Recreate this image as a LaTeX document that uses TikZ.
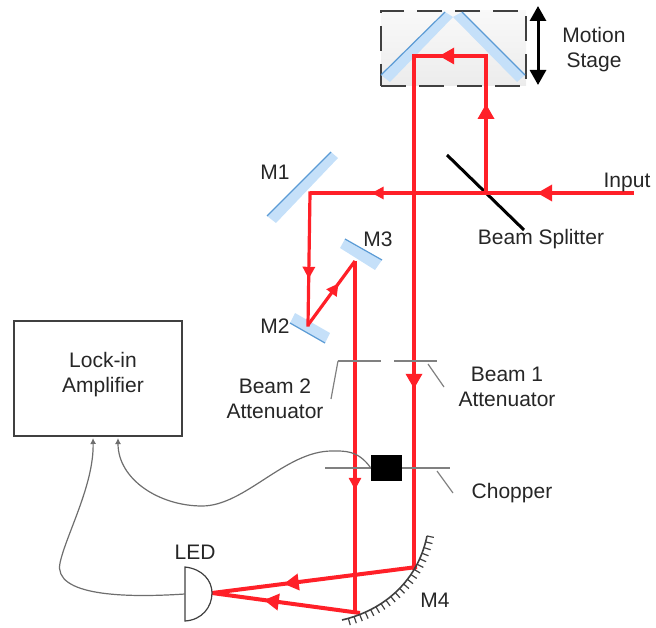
\documentclass[tikz,border=0pt]{standalone}
\usepackage{fontspec}
\setmainfont{Liberation Sans}
\usetikzlibrary{arrows.meta,decorations.markings,decorations.pathreplacing}
\definecolor{beamred}{HTML}{FF2028}
\definecolor{bandblue}{HTML}{C5E0F9}
\definecolor{edgeblue}{HTML}{5B9BD5}
\definecolor{wiregrey}{HTML}{6E6E6E}
\definecolor{darkgrey}{HTML}{404040}
\begin{document}
\begin{tikzpicture}[x=1pt,y=-1pt,
					beam/.style = {color = beamred,
								line width = 3.4pt,
								postaction = decorate,
								decoration = {markings,
											mark = at position 0.65 with {\arrow{Triangle[length=15pt,width=16pt]}}}},
					thinbeam/.style = {color = beamred,
								line width = 3.2pt,
								postaction = decorate,
								decoration = {markings,
											mark = at position 0.65 with {\arrow{Triangle[length=12pt,width=12pt]}}}},
					band/.style = {fill = bandblue, draw = none},
					blueedge/.style = {color = edgeblue, line width = 1.2pt},
					wire/.style = {color = wiregrey, line width = 1.2pt},
					slit/.style = {color = gray, line width = 2pt},
					leader/.style = {color = gray, line width = 1.2pt},
					lbl/.style = {align = center,
								inner sep = 0pt,
								text = black!85,
								font = \fontsize{21}{25}\selectfont}]
		\useasboundingbox (0,0) rectangle (656,628);

		\node[draw = darkgrey, dash pattern = on 25pt off 13pt, line width = 1.5pt, top color = gray!5, bottom color = gray!15,
			minimum width = 145pt, minimum height = 75pt, inner sep = 0pt] (stage) at (453.5,48.5) {};
		\fill[band] (381,75) -- (445,12) -- (453,17) -- (390,82) -- cycle;
		\fill[band] (462,12) -- (525,75) -- (517,82) -- (453,17) -- cycle;
		\fill[band] (331,152) -- (267,216) -- (276,223) -- (338,158) -- cycle;
		\fill[band] (290,323) -- (325,343) -- (330,333) -- (295,313) -- cycle;
		\fill[band] (345,239) -- (382,260) -- (375,270) -- (340,248) -- cycle;
		\coordinate (stageL1) at (381,75);
		\coordinate (stageL2) at (445,12);
		\coordinate (stageR1) at (462,12);
		\coordinate (stageR2) at (525,75);
		\coordinate (m1a) at (331,152);
		\coordinate (m1b) at (267,216);
		\coordinate (m2a) at (290,323);
		\coordinate (m2b) at (325,343);
		\coordinate (m3a) at (345,239);
		\coordinate (m3b) at (382,260);
		\path[blueedge] (stageL1) edge (stageL2);
		\path[blueedge] (stageR1) edge (stageR2);
		\path[blueedge] (m1a) edge (m1b);
		\path[blueedge] (m2a) edge (m2b);
		\path[blueedge] (m3a) edge (m3b);

		\coordinate (bs1) at (447,155);
		\coordinate (bs2) at (524,230);
		\draw[line width = 3pt, black] (bs1) -- (bs2);

		\coordinate (input) at (632,193);
		\coordinate (split) at (486,193);
		\coordinate (stage1) at (486,56);
		\coordinate (stage2) at (414,56);
		\coordinate (m4up) at (414,568);
		\coordinate (m4hit) at (417,567);
		\coordinate (corner) at (310,193);
		\coordinate (m2hit) at (308,325);
		\coordinate (m3hit) at (355,261);
		\coordinate (m4low) at (355,613);
		\coordinate (m4low2) at (360,613);
		\coordinate (ledtip) at (212,593);
		\draw[beam, line cap = rect] (input) -- (split);
		\draw[beam, line cap = rect] (split) -- (stage1);
		\draw[beam, line cap = rect] (stage1) -- (stage2);
		\draw[beam, line cap = rect] (stage2) -- (m4up);
		\draw[thinbeam] (split) -- (corner);
		\draw[thinbeam, line cap = rect] (corner) -- (m2hit);
		\draw[thinbeam] (m2hit) -- (m3hit);
		\draw[thinbeam] (m3hit) -- (m4low);
		\draw[beam, line width = 4pt] (m4hit) -- (ledtip);
		\draw[beam, line width = 4pt] (m4low2) -- (ledtip);

		\draw[darkgrey, line width = 1.2pt, decorate, decoration = {border, segment length = 6pt, amplitude = 7pt, angle = 90}]
			(427,536) .. controls (418,580) and (385,610) .. (342,620);
		\draw[darkgrey, line width = 1.6pt] (427,536) .. controls (418,580) and (385,610) .. (342,620);

		\coordinate (ledA) at (185,567);
		\coordinate (ledB) at (185,621);
		\draw[darkgrey, line width = 1.2pt] (ledA) .. controls (203,569) and (212,581) .. (ledtip) .. controls (212,607) and (202,620) .. (ledB) -- cycle;

		\coordinate (att2a) at (338,361);
		\coordinate (att2b) at (381,361);
		\coordinate (att2c) at (331,399);
		\coordinate (att1a) at (394,361);
		\coordinate (att1b) at (437,361);
		\coordinate (att1c) at (428,364);
		\coordinate (att1d) at (444,387);
		\draw[slit] (att2a) -- (att2b);
		\draw[slit] (att1a) -- (att1b);
		\draw[leader] (att2a) -- (att2c);
		\draw[leader] (att1c) -- (att1d);

		\coordinate (chopL) at (325,468);
		\coordinate (chopR) at (450,468);
		\coordinate (chopC) at (437,471);
		\coordinate (chopD) at (453,493);
		\draw[slit] (chopL) -- (chopR);
		\draw[leader] (chopC) -- (chopD);
		\node[fill = black, minimum width = 31pt, minimum height = 26pt, inner sep = 0pt] (chopbox) at (386.5,468) {};

		\node[draw = darkgrey, line width = 1.5pt, minimum width = 168pt, minimum height = 115pt, inner sep = 0pt] (lockin) at (98,378.5) {};
		\coordinate (wireA) at (118,438);
		\coordinate (wireB) at (93,438);
		\draw[wire, -{Latex[length=6pt,width=6pt]}] (chopbox.west) .. controls (358,450) and (345,451) .. (332,451)
			.. controls (285,451) and (245,506) .. (202,506) .. controls (160,506) and (118,480) .. (wireA);
		\draw[wire, -{Latex[length=6pt,width=6pt]}] (185,594) .. controls (125,598) and (53,596) .. (60,563)
			.. controls (66,535) and (94,485) .. (wireB);

		\node[lbl] (motion) at (594,50) {Motion\\Stage};
		\node[lbl] (inputlbl) at (627,182) {Input};
		\node[lbl] (splitlbl) at (541,239) {Beam Splitter};
		\node[lbl] (m1lbl) at (275,172) {M1};
		\node[lbl] (m2lbl) at (275,326) {M2};
		\node[lbl] (m3lbl) at (378,239) {M3};
		\node[lbl] (m4lbl) at (435,600) {M4};
		\node[lbl] (beam2lbl) at (275,399) {Beam 2\\Attenuator};
		\node[lbl] (beam1lbl) at (507,387) {Beam 1\\Attenuator};
		\node[lbl] (chopperlbl) at (512,493) {Chopper};
		\node[lbl] (ledlbl) at (195,552) {LED};
		\node[lbl] (locklbl) at (103,375) {Lock-in\\Amplifier};

		\coordinate (motionA) at (538,6);
		\coordinate (motionB) at (538,85);
		\draw[line width = 3pt, {Triangle[length=15pt,width=16pt]}-{Triangle[length=15pt,width=16pt]}] (motionA) -- (motionB);
	\end{tikzpicture}
\end{document}
